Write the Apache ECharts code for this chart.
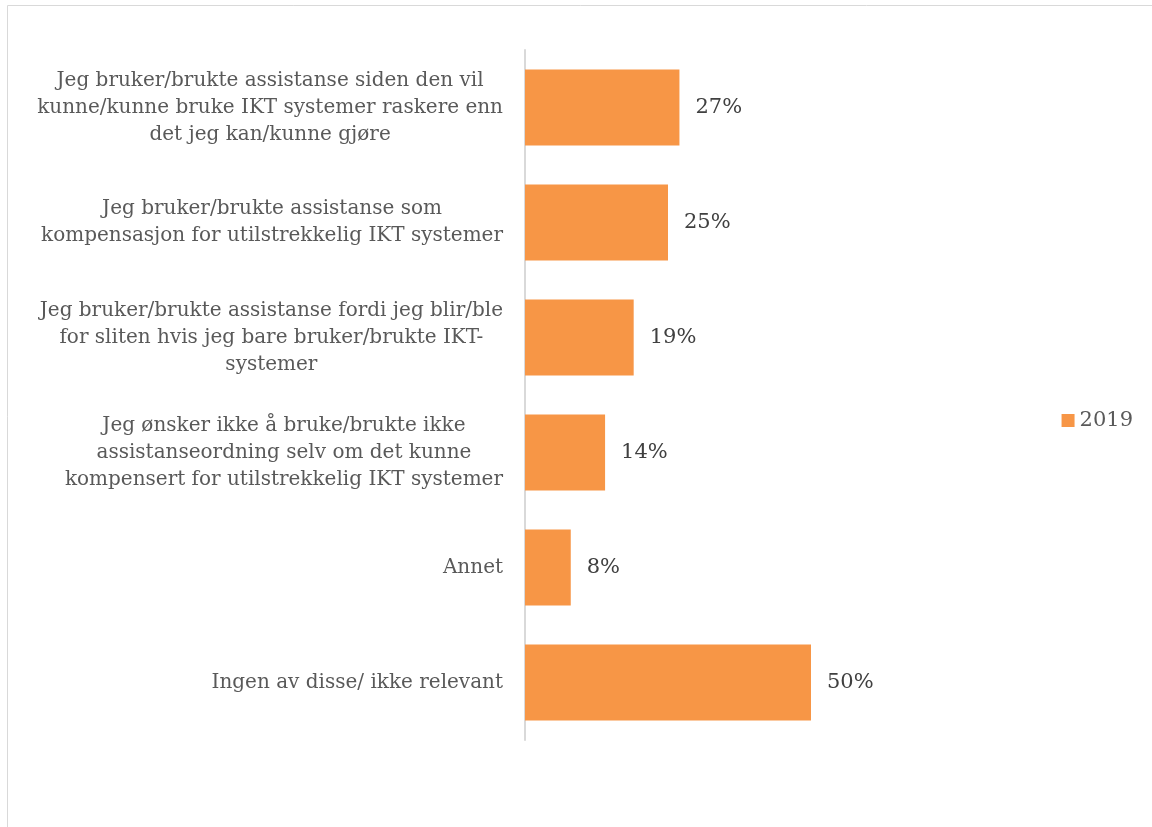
<!DOCTYPE html>
<html>
<head>
<meta charset="utf-8">
<script src="https://cdn.jsdelivr.net/npm/echarts@6/dist/echarts.min.js"></script>
<style>
  html, body { margin: 0; padding: 0; background: #fff; }
  #main { width: 1152px; height: 827px; }
</style>
</head>
<body>
<div id="main"></div>
<script>
// kategorier (øverst først, slik som i figuren)
var categories = [
  'Jeg bruker/brukte assistanse siden den vil\nkunne/kunne bruke IKT systemer raskere enn\ndet jeg kan/kunne gjøre',
  'Jeg bruker/brukte assistanse som\nkompensasjon for utilstrekkelig IKT systemer',
  'Jeg bruker/brukte assistanse fordi jeg blir/ble\nfor sliten hvis jeg bare bruker/brukte IKT-\nsystemer',
  'Jeg ønsker ikke å bruke/brukte ikke\nassistanseordning selv om det kunne\nkompensert for utilstrekkelig IKT systemer',
  'Annet',
  'Ingen av disse/ ikke relevant'
];
var values2019 = [27, 25, 19, 14, 8, 50];
var seriesName = '2019';

var font = 'DejaVu Serif';

var myChart = echarts.init(document.getElementById('main'));

myChart.setOption({
  animation: false,
  textStyle: { fontFamily: font },
  graphic: [{
    type: 'rect',
    shape: { x: 7.5, y: 5.5, width: 1200, height: 900 },
    style: { fill: 'none', stroke: '#d9d9d9', lineWidth: 1 },
    silent: true
  }],
  legend: {
    data: [seriesName],
    right: 14,
    top: 405,
    orient: 'vertical',
    icon: 'rect',
    itemWidth: 13,
    itemHeight: 13,
    itemGap: 5,
    textStyle: { fontFamily: font, fontSize: 21, color: '#595959' }
  },
  grid: {
    left: 525,
    top: 50,
    bottom: 87,
    right: 1152 - 525 - 343.2,
    containLabel: false
  },
  xAxis: {
    type: 'value',
    min: 0,
    max: 60,
    show: false
  },
  yAxis: {
    type: 'category',
    inverse: true,
    data: categories,
    axisLine: { show: true, lineStyle: { color: '#d9d9d9', width: 2 } },
    axisTick: { show: false },
    axisLabel: {
      margin: 22,
      align: 'right',
      // linjene sentreres innenfor blokken, blokken høyrejusteres
      formatter: function (v) {
        return v.split('\n').map(function (l) { return '{c|' + l + '}'; }).join('\n');
      },
      rich: {
        c: {
          align: 'center',
          fontFamily: font,
          fontSize: 20,
          lineHeight: 27,
          color: '#595959'
        }
      }
    }
  },
  series: [{
    name: seriesName,
    type: 'bar',
    data: values2019,
    barWidth: 76,
    itemStyle: { color: '#F79646' },
    label: {
      show: true,
      position: 'right',
      distance: 16,
      formatter: '{c}%',
      fontFamily: font,
      fontSize: 21,
      color: '#404040'
    }
  }]
});
</script>
</body>
</html>
